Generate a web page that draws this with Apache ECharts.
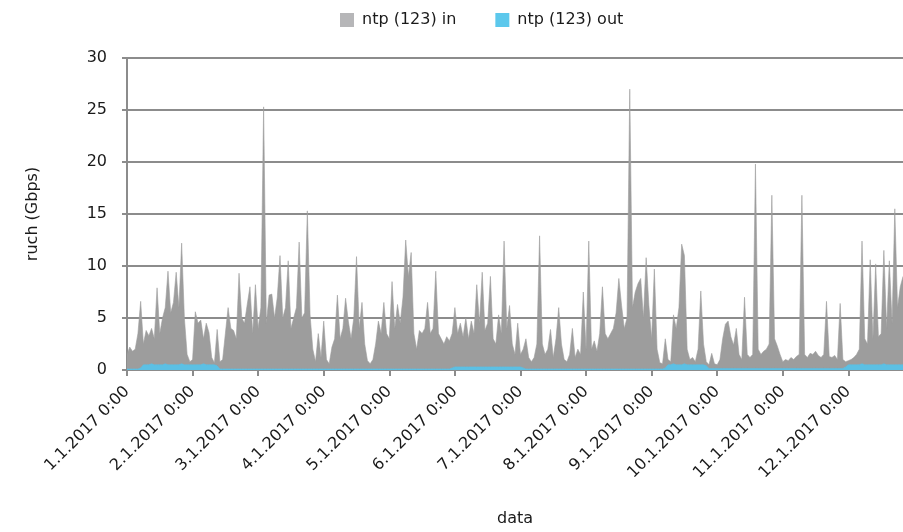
<!DOCTYPE html>
<html>
<head>
<meta charset="utf-8">
<script src="https://cdn.jsdelivr.net/npm/echarts@6/dist/echarts.min.js"></script>
<style>
html,body{margin:0;padding:0;background:#fff;}
#c{width:903px;height:532px;}
</style>
</head>
<body>
<div id="c"></div>
<script>
// Tick labels (one per day, January 2017)
var dayLabels = ['1.1.2017 0:00','2.1.2017 0:00','3.1.2017 0:00','4.1.2017 0:00','5.1.2017 0:00','6.1.2017 0:00',
  '7.1.2017 0:00','8.1.2017 0:00','9.1.2017 0:00','10.1.2017 0:00','11.1.2017 0:00','12.1.2017 0:00'];
var seriesNames = ['ntp (123) in', 'ntp (123) out'];

// Hourly traffic, Gbps — ntp (123) in
var inValues = [
  1.5,2.2,1.8,2,3.5,6.6,2.5,3.8,3.3,4,3,7.9,3.5,5,6,9.5,5.5,6.5,9.4,6,12.2,5,1.5,0.8,
  1,5.6,4.5,4.8,3,4.5,3.6,1.2,0.7,3.9,0.8,1,3.5,6,4,3.8,3,9.3,5,4.5,6.3,8,3.5,8.2,
  4,6,25.3,4.5,7.2,7.3,5,7,11,5,6,10.5,4,5,6,12.3,5,5.5,15.3,5.3,2,0.8,3.5,1.2,
  4.7,1,0.6,2.2,3,7.2,3,4,6.9,4.7,3,5,10.9,4,6.5,2.5,0.9,0.6,1,2.5,4.7,3.5,6.5,3.5,
  3,8.5,4,6.3,4.5,7,12.5,9,11.3,3.5,2,3.8,3.5,4,6.5,3.5,4,9.5,3.5,3,2.5,3.2,2.8,3.5,
  6,3.5,4.5,3.2,5,3,4.7,3.5,8.2,4.5,9.4,3.8,4.5,9,3,2.5,5.3,3.5,12.4,4,6.2,2.5,1.5,4.5,
  1.5,2,3,1.2,0.8,1.2,2.5,12.9,2.5,1.5,2,3.9,1.2,3,6,2.5,1,0.8,1.5,4,1.2,2,1.5,7.5,
  2,12.4,2,2.8,1.8,3.5,8,3.5,3,3.5,4,5.5,8.8,6.2,4,5,27,6,7.5,8.3,8.8,5,10.8,6.2,
  3,9.7,2,0.7,0.6,3,1,0.8,5.3,4,6,12.1,11,2,1,1.2,0.8,2,7.6,2.5,0.8,0.5,1.6,0.6,
  0.5,1,3,4.4,4.7,3.2,2.4,4,1.5,1,7,1.5,1.2,1.5,19.8,2,1.5,1.8,2,2.5,16.8,3,2.3,1.5,
  0.8,1,0.9,1.2,1,1.3,1.5,16.8,1.5,1.2,1.6,1.5,1.8,1.4,1.2,1.5,6.6,1.3,1.2,1.4,1,6.4,1,0.8,
  0.9,1,1.2,1.5,2,12.4,3,2.5,10.6,3,10.2,3.2,3.5,11.5,4,10.5,4.5,15.5,6,8,9
];

// Hourly traffic, Gbps — ntp (123) out
var outValues = [
  0.1,0.1,0.1,0.1,0.1,0.2,0.5,0.5,0.5,0.6,0.5,0.5,0.5,0.5,0.6,0.5,0.5,0.5,0.5,0.5,0.6,0.5,0.5,0.5,
  0.5,0.5,0.5,0.5,0.6,0.5,0.5,0.5,0.5,0.4,0.1,0.1,0.1,0.1,0.1,0.1,0.1,0.1,0.1,0.1,0.1,0.1,0.1,0.1,
  0.1,0.1,0.1,0.1,0.1,0.1,0.1,0.1,0.1,0.1,0.1,0.1,0.1,0.1,0.1,0.1,0.1,0.1,0.1,0.1,0.1,0.1,0.1,0.1,
  0.1,0.1,0.1,0.1,0.1,0.1,0.1,0.1,0.1,0.1,0.1,0.1,0.1,0.1,0.1,0.1,0.1,0.1,0.1,0.1,0.1,0.1,0.1,0.1,
  0.1,0.1,0.1,0.1,0.1,0.1,0.1,0.1,0.1,0.1,0.1,0.1,0.1,0.1,0.1,0.1,0.1,0.1,0.1,0.1,0.1,0.1,0.1,0.2,
  0.3,0.3,0.3,0.3,0.3,0.3,0.3,0.3,0.3,0.3,0.3,0.3,0.3,0.3,0.3,0.3,0.3,0.3,0.3,0.3,0.3,0.3,0.3,0.3,
  0.3,0.2,0.1,0.1,0.1,0.1,0.1,0.1,0.1,0.1,0.1,0.1,0.1,0.1,0.1,0.1,0.1,0.1,0.1,0.1,0.1,0.1,0.1,0.1,
  0.1,0.1,0.1,0.1,0.1,0.1,0.1,0.1,0.1,0.1,0.1,0.1,0.1,0.1,0.1,0.1,0.1,0.1,0.1,0.1,0.1,0.1,0.1,0.1,
  0.1,0.1,0.1,0.1,0.1,0.2,0.5,0.5,0.6,0.5,0.5,0.5,0.6,0.5,0.5,0.5,0.5,0.5,0.5,0.5,0.4,0.15,0.15,0.15,
  0.15,0.15,0.15,0.15,0.15,0.15,0.15,0.15,0.15,0.15,0.15,0.15,0.15,0.15,0.15,0.15,0.15,0.15,0.15,0.15,0.15,0.15,0.15,0.15,
  0.15,0.15,0.15,0.15,0.15,0.15,0.15,0.15,0.15,0.15,0.15,0.15,0.15,0.15,0.15,0.15,0.15,0.15,0.15,0.15,0.15,0.15,0.15,0.3,
  0.5,0.5,0.5,0.5,0.5,0.6,0.5,0.5,0.5,0.5,0.5,0.5,0.5,0.6,0.5,0.5,0.5,0.5,0.5,0.5,0.5
];

// Category per hour, labels drawn once a day from dayLabels
var categories = [];
for (var i = 0; i < inValues.length; i++) {
  var d = Math.floor(i / 24), h = i % 24;
  categories.push((d + 1) + '.1.2017 ' + h + ':00');
}

var FONT = 'DejaVu Sans';
var chart = echarts.init(document.getElementById('c'), null, {renderer: 'canvas'});
chart.setOption({
  animation: false,
  backgroundColor: '#ffffff',
  textStyle: {fontFamily: FONT},
  legend: {
    top: 12, left: 340, padding: 0,
    itemWidth: 14, itemHeight: 14, itemGap: 39,
    icon: 'rect',
    textStyle: {fontFamily: FONT, fontSize: 16, color: '#1a1a1a', padding: [0,0,0,3]},
    data: [
      {name: seriesNames[0], itemStyle: {color: '#b6b6b8'}},
      {name: seriesNames[1], itemStyle: {color: '#5cc8ec'}}
    ]
  },
  grid: {left: 127, right: 0, top: 58, bottom: 159, containLabel: false},
  xAxis: {
    type: 'category',
    boundaryGap: false,
    data: categories,
    name: 'data',
    nameLocation: 'middle',
    nameGap: 141,
    nameTextStyle: {fontFamily: FONT, fontSize: 16, color: '#1a1a1a'},
    axisLine: {lineStyle: {color: '#8c8c8c', width: 2}},
    axisTick: {show: true, length: 6, interval: function (idx) { return idx % 24 === 0; }, lineStyle: {color: '#8c8c8c', width: 2}},
    axisLabel: {
      interval: function (idx) { return idx % 24 === 0; },
      formatter: function (v, idx) { return dayLabels[Math.floor(idx / 24)] || ''; },
      rotate: 45, margin: 19,
      fontFamily: FONT, fontSize: 16, color: '#1a1a1a'
    },
    splitLine: {show: false}
  },
  yAxis: {
    type: 'value',
    min: 0, max: 30, interval: 5,
    name: 'ruch (Gbps)',
    nameLocation: 'middle',
    nameGap: 86,
    nameRotate: 90,
    nameTextStyle: {fontFamily: FONT, fontSize: 16, color: '#1a1a1a'},
    axisLine: {show: true, lineStyle: {color: '#8c8c8c', width: 2}},
    axisTick: {show: true, length: 5, lineStyle: {color: '#8c8c8c', width: 2}},
    axisLabel: {margin: 20, fontFamily: FONT, fontSize: 16, color: '#1a1a1a'},
    splitLine: {show: true, lineStyle: {color: '#8c8c8c', width: 2}}
  },
  series: [
    {
      name: seriesNames[0], type: 'line', data: inValues,
      showSymbol: false, symbol: 'none',
      lineStyle: {width: 0.6, color: '#9d9d9d'},
      areaStyle: {color: '#9d9d9d', opacity: 1},
      itemStyle: {color: '#b6b6b8'},
      z: 2
    },
    {
      name: seriesNames[1], type: 'line', data: outValues,
      showSymbol: false, symbol: 'none',
      lineStyle: {width: 0.6, color: '#5cc0e4'},
      areaStyle: {color: '#5cc0e4', opacity: 1},
      itemStyle: {color: '#5cc8ec'},
      z: 3
    }
  ]
});
</script>
</body>
</html>
